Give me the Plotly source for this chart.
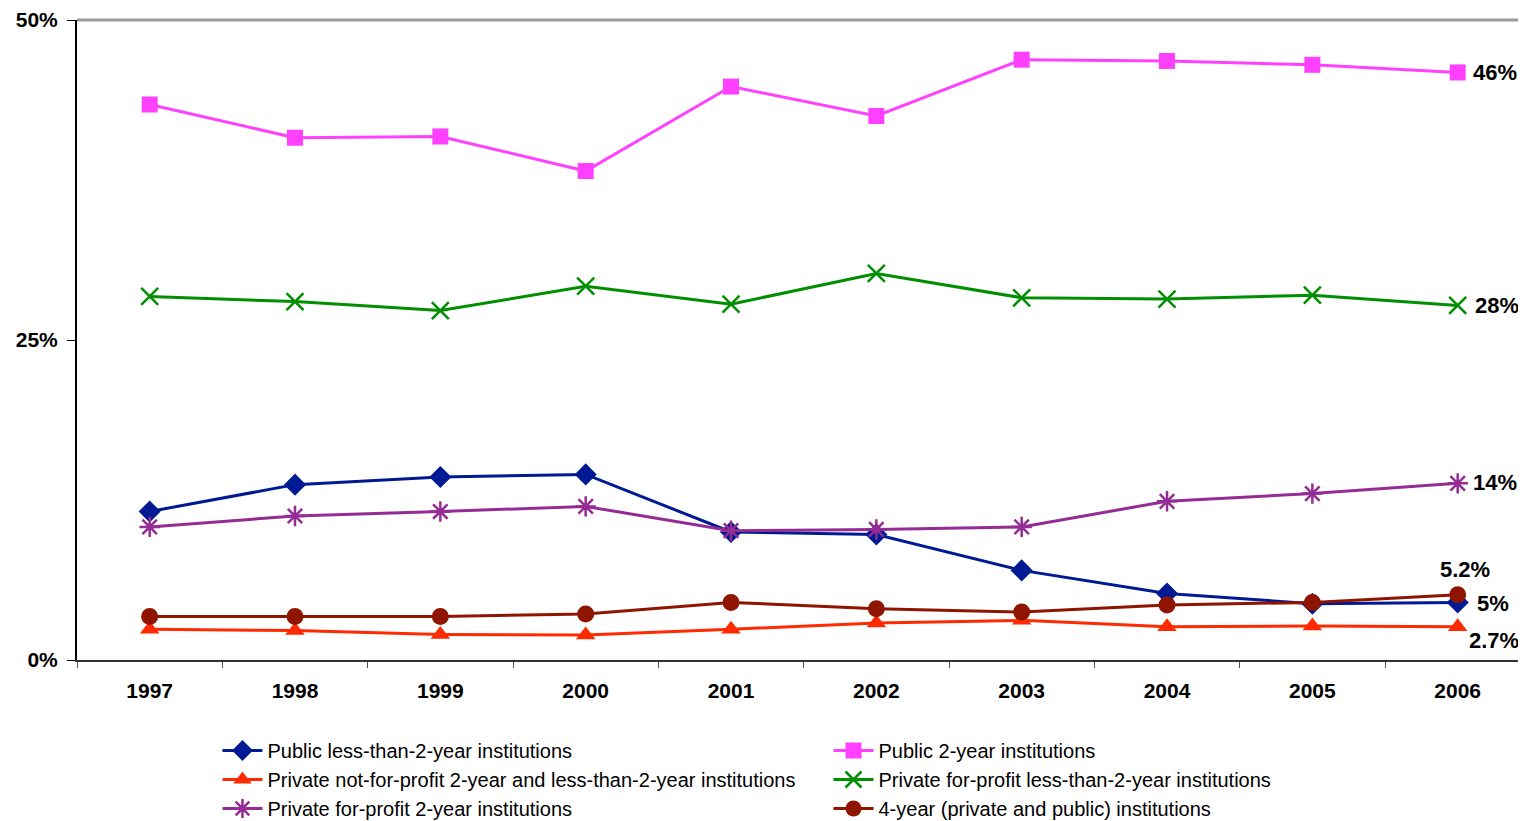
import plotly.graph_objects as go

years = ["1997", "1998", "1999", "2000", "2001", "2002", "2003", "2004", "2005", "2006"]

public_lt2 = [11.6, 13.7, 14.3, 14.5, 10.0, 9.8, 7.0, 5.2, 4.4, 4.5]
public_2yr = [43.4, 40.8, 40.9, 38.2, 44.8, 42.5, 46.9, 46.8, 46.5, 45.9]
private_nfp = [2.4, 2.3, 2.0, 1.95, 2.4, 2.9, 3.1, 2.6, 2.65, 2.6]
private_fp_lt2 = [28.4, 28.0, 27.3, 29.2, 27.8, 30.2, 28.3, 28.2, 28.5, 27.7]
private_fp_2yr = [10.4, 11.25, 11.6, 12.0, 10.1, 10.2, 10.4, 12.4, 13.0, 13.8]
four_year = [3.4, 3.4, 3.4, 3.6, 4.5, 4.0, 3.75, 4.3, 4.5, 5.1]

series_names = [
    "Public less-than-2-year institutions",
    "Public 2-year institutions",
    "Private not-for-profit 2-year and less-than-2-year institutions",
    "Private for-profit less-than-2-year institutions",
    "Private for-profit 2-year institutions",
    "4-year (private and public) institutions",
]
end_labels = ["5%", "46%", "2.7%", "28%", "14%", "5.2%"]

FONT = "Liberation Sans, Arial, sans-serif"

styles = [
    dict(color="#001A94", symbol="diamond", size=17, lw=0),
    dict(color="#FF40FF", symbol="square", size=16, lw=0),
    dict(color="#FF2A00", symbol="triangle-up", size=17, lw=0),
    dict(color="#008F00", symbol="x-thin-open", size=17, lw=2.5),
    dict(color="#952B95", symbol="asterisk-open", size=17, lw=2.5),
    dict(color="#8F1500", symbol="circle", size=17, lw=0),
]
data = [public_lt2, public_2yr, private_nfp, private_fp_lt2, private_fp_2yr, four_year]

fig = go.Figure()
for name, vals, st in zip(series_names, data, styles):
    fig.add_trace(go.Scatter(
        x=years, y=vals, name=name, mode="lines+markers",
        line=dict(color=st["color"], width=3),
        marker=dict(symbol=st["symbol"], size=st["size"], color=st["color"],
                    line=dict(color=st["color"], width=st["lw"])),
    ))

# end labels (category index of the last year)
last = len(years) - 1
offsets = [
    (35, -1),   # 5%
    (37, 0),    # 46%
    (36, -14),  # 2.7%
    (39, 0),    # 28%
    (37, 1),    # 14%
    (7, 25),    # 5.2%
]
for vals, lab, (dx, dy) in zip(data, end_labels, offsets):
    fig.add_annotation(x=last, y=vals[-1], text="<b>" + lab + "</b>", showarrow=False,
                       xshift=dx, yshift=dy, font=dict(family=FONT, size=22, color="black"))

fig.add_shape(type="line", xref="paper", yref="paper", x0=0, x1=1, y0=1, y1=1,
              line=dict(color="#999999", width=3), layer="above")

fig.update_layout(
    width=1518, height=813,
    margin=dict(l=69, r=0, t=12, b=161, autoexpand=False),
    plot_bgcolor="white", paper_bgcolor="white",
    font=dict(family=FONT, color="black"),
    showlegend=True,
    legend=dict(
        orientation="h", xref="container", yref="container",
        x=0.138, y=0.1107, xanchor="left", yanchor="top",
        entrywidth=556, font=dict(family=FONT, size=20, color="black"),
        tracegroupgap=0, itemwidth=40,
    ),
    xaxis=dict(
        type="category", range=[-0.5, 9.47], showline=True, linecolor="#333333", linewidth=2,
        ticks="outside", tickson="boundaries", ticklen=6, tickcolor="#555555", tickwidth=1,
        tickfont=dict(family=FONT, size=21, color="black"), showgrid=False,
        tickprefix="<b>", ticksuffix="</b>", ticklabelstandoff=11,
    ),
    yaxis=dict(
        range=[0, 50], tickvals=[0, 25, 50], ticktext=["<b>0%</b>", "<b>25%</b>", "<b>50%</b>"],
        showline=True, linecolor="black", linewidth=2, ticks="outside", ticklen=8,
        tickcolor="black", tickwidth=1, showgrid=False, zeroline=False,
        tickfont=dict(family=FONT, size=21, color="black"), ticklabelstandoff=5,
    ),
)

fig.write_html("out.html")
